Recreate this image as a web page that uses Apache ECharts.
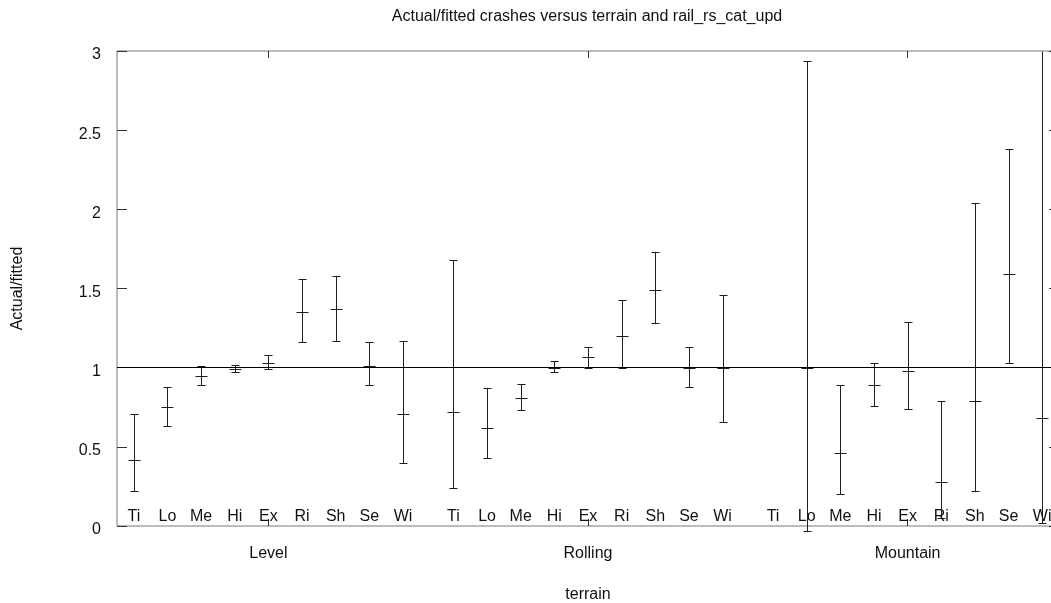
<!DOCTYPE html>
<html>
<head>
<meta charset="utf-8">
<script src="https://cdn.jsdelivr.net/npm/echarts@6/dist/echarts.min.js"></script>
<style>
  html, body { margin: 0; padding: 0; background: #fff; }
  #chart { width: 1051px; height: 603px; }
</style>
</head>
<body>
<div id="chart"></div>
<script>
// ---- data ----
const categories = ['Ti', 'Lo', 'Me', 'Hi', 'Ex', 'Ri', 'Sh', 'Se', 'Wi'];
const groups = ['Level', 'Rolling', 'Mountain'];

const levelCenter = [0.42, 0.75, 0.95, 0.99, 1.03, 1.35, 1.37, 1.01, 0.71];
const levelLow    = [0.22, 0.63, 0.89, 0.97, 0.99, 1.16, 1.17, 0.89, 0.40];
const levelHigh   = [0.71, 0.88, 1.01, 1.02, 1.08, 1.56, 1.58, 1.16, 1.17];

const rollingCenter = [0.72, 0.62, 0.81, 1.00, 1.07, 1.20, 1.49, 1.00, 1.00];
const rollingLow    = [0.24, 0.43, 0.73, 0.97, 1.00, 1.00, 1.28, 0.88, 0.66];
const rollingHigh   = [1.68, 0.87, 0.90, 1.04, 1.13, 1.43, 1.73, 1.13, 1.46];

const mountainCenter = [null, 1.00, 0.46, 0.89, 0.98, 0.28, 0.79, 1.59, 0.68];
const mountainLow    = [null, -0.03, 0.20, 0.76, 0.74, 0.05, 0.22, 1.03, 0.02];
const mountainHigh   = [null, 2.94, 0.89, 1.03, 1.29, 0.79, 2.04, 2.38, 3.40];

const yMin = 0, yMax = 3, yStep = 0.5;
const referenceValue = 1;

// ---- build ----
const centers = [levelCenter, rollingCenter, mountainCenter];
const lows = [levelLow, rollingLow, mountainLow];
const highs = [levelHigh, rollingHigh, mountainHigh];
const GROUP_SPAN = categories.length + 0.5;
function pos(g, i) { return g * GROUP_SPAN + i + 0.5; }
const xMax = groups.length * categories.length + (groups.length - 1) * 0.5;

const barData = [];
const catPositions = [];
const catNameByPos = {};
const groupCenters = [];
const groupNameByPos = {};
groups.forEach((gName, g) => {
  const gc = (pos(g, 0) + pos(g, categories.length - 1)) / 2;
  groupCenters.push(gc);
  groupNameByPos[Math.round(gc * 2)] = gName;
  categories.forEach((c, i) => {
    const p = pos(g, i);
    catPositions.push(p);
    catNameByPos[Math.round(p * 2)] = c;
    if (centers[g][i] != null) {
      barData.push([p, lows[g][i], centers[g][i], highs[g][i]]);
    }
  });
});

const BAR_COLOR = '#1e1e1e';
const TICK_COLOR = '#333';
const TEXT_COLOR = '#111';
const FONT = 'Liberation Sans, Arial, sans-serif';
const FS = 16;

function renderBar(params, api) {
  const x = api.value(0), lo = api.value(1), c = api.value(2), hi = api.value(3);
  const cs = params.coordSys;
  const pLo = api.coord([x, lo]);
  const pHi = api.coord([x, hi]);
  const pC = api.coord([x, c]);
  const px = Math.round(pLo[0]) + 0.5;
  let yHi = pHi[1];
  let capHi = true;
  if (yHi < cs.y) { yHi = cs.y; capHi = false; }
  const yLo = Math.round(pLo[1]) + 0.5;
  yHi = Math.round(yHi) + 0.5;
  const yC = Math.round(pC[1]) + 0.5;
  const style = { stroke: BAR_COLOR, lineWidth: 1 };
  const children = [
    { type: 'line', shape: { x1: px, y1: yLo, x2: px, y2: yHi }, style },
    { type: 'line', shape: { x1: px - 4, y1: yLo, x2: px + 4, y2: yLo }, style },
    { type: 'line', shape: { x1: px - 6, y1: yC, x2: px + 6, y2: yC }, style }
  ];
  if (capHi) {
    children.push({ type: 'line', shape: { x1: px - 4, y1: yHi, x2: px + 4, y2: yHi }, style });
  }
  return { type: 'group', children };
}

const chart = echarts.init(document.getElementById('chart'), null, { renderer: 'canvas' });
const gridLeft = 117, gridTop = 51, gridWidth = 942, gridBottom = 77;

chart.setOption({
  animation: false,
  backgroundColor: '#fff',
  textStyle: { fontFamily: FONT },
  title: {
    text: 'Actual/fitted crashes versus terrain and rail_rs_cat_upd',
    left: gridLeft + gridWidth / 2 - 6,
    textAlign: 'center',
    top: 4,
    textStyle: { fontSize: FS, fontWeight: 'normal', color: TEXT_COLOR, fontFamily: FONT }
  },
  grid: {
    left: gridLeft, top: gridTop, width: gridWidth, bottom: gridBottom,
    show: true, borderColor: '#7a7a7a', borderWidth: 1,
    containLabel: false, outerBoundsMode: 'none'
  },
  xAxis: [
    {
      type: 'value', min: 0, max: xMax, position: 'bottom',
      splitLine: { show: false },
      axisLine: { show: false, onZero: false },
      axisTick: { show: true, inside: true, length: 7, customValues: groupCenters, lineStyle: { color: TICK_COLOR } },
      axisLabel: {
        show: true, customValues: groupCenters, margin: 20,
        fontSize: FS, color: TEXT_COLOR, fontFamily: FONT,
        formatter: v => groupNameByPos[Math.round(v * 2)] || ''
      },
      name: 'terrain', nameLocation: 'middle', nameGap: 61,
      nameTextStyle: { fontSize: FS, color: TEXT_COLOR, fontFamily: FONT }
    },
    {
      type: 'value', min: 0, max: xMax, position: 'bottom',
      splitLine: { show: false },
      axisLine: { show: false, onZero: false },
      axisTick: { show: false },
      axisLabel: {
        show: true, inside: true, customValues: catPositions, margin: 1.5,
        fontSize: FS, color: TEXT_COLOR, fontFamily: FONT,
        formatter: v => catNameByPos[Math.round(v * 2)] || ''
      }
    },
    {
      type: 'value', min: 0, max: xMax, position: 'top',
      splitLine: { show: false },
      axisLine: { show: false, onZero: false },
      axisTick: { show: true, inside: true, length: 7, customValues: groupCenters, lineStyle: { color: TICK_COLOR } },
      axisLabel: { show: false }
    }
  ],
  yAxis: [
    {
      type: 'value', min: yMin, max: yMax, interval: yStep, position: 'left',
      splitLine: { show: false },
      axisLine: { show: false, onZero: false },
      axisTick: { show: true, inside: true, length: 10, lineStyle: { color: TICK_COLOR } },
      axisLabel: {
        margin: 16, fontSize: FS, color: TEXT_COLOR, fontFamily: FONT,
        verticalAlign: 'top', lineHeight: 8,
        formatter: v => String(v)
      },
      name: 'Actual/fitted', nameLocation: 'middle', nameGap: 91, nameRotate: 90,
      nameTextStyle: { fontSize: FS, color: TEXT_COLOR, fontFamily: FONT }
    },
    {
      type: 'value', min: yMin, max: yMax, interval: yStep, position: 'right',
      splitLine: { show: false },
      axisLine: { show: false, onZero: false },
      axisTick: { show: true, inside: true, length: 10, lineStyle: { color: TICK_COLOR } },
      axisLabel: { show: false }
    }
  ],
  series: [
    {
      type: 'custom',
      xAxisIndex: 0, yAxisIndex: 0,
      clip: false,
      data: barData,
      renderItem: renderBar,
      silent: true,
      z: 3,
      markLine: {
        silent: true,
        symbol: ['none', 'none'],
        label: { show: false },
        lineStyle: { color: '#000', width: 1, type: 'solid' },
        data: [{ yAxis: referenceValue }]
      }
    }
  ]
});
</script>
</body>
</html>
